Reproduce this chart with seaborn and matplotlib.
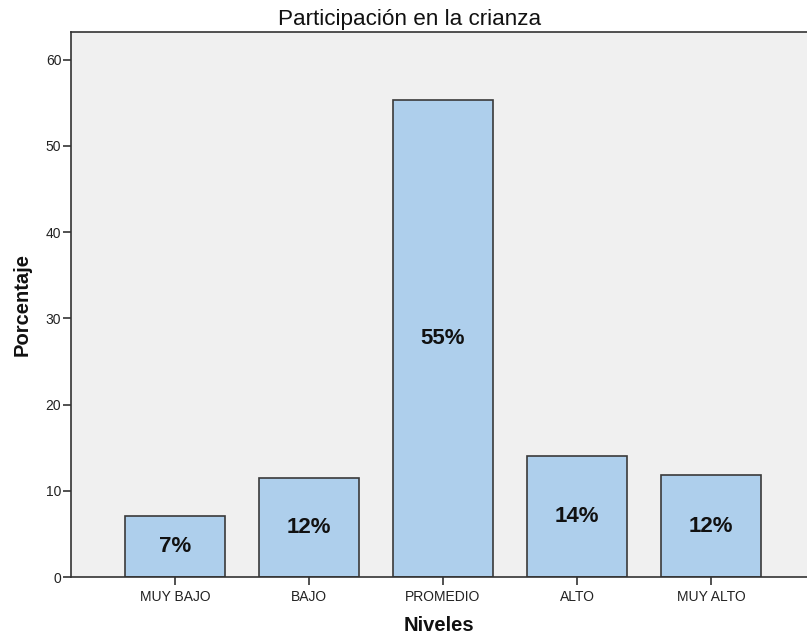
import pandas as pd
import seaborn as sns
import matplotlib.pyplot as plt

# Data
niveles = ["MUY BAJO", "BAJO", "PROMEDIO", "ALTO", "MUY ALTO"]
porcentaje = [7.1, 11.5, 55.3, 14.0, 11.8]
etiquetas = ["7%", "12%", "55%", "14%", "12%"]

df = pd.DataFrame({"Niveles": niveles, "Porcentaje": porcentaje})

sns.set_style("white")
plt.rcParams["font.family"] = ["Liberation Sans", "DejaVu Sans"]

fig = plt.figure(figsize=(8.07, 6.41), dpi=100)
ax = fig.add_axes([0.088, 0.0998, 0.912, 0.8503])
ax.set_facecolor("#F0F0F0")

sns.barplot(data=df, x="Niveles", y="Porcentaje", color="#AECFEC",
            edgecolor="#3A3A3A", linewidth=1.2, width=0.75, saturation=1, ax=ax)

# percentage labels centred in each bar
for i, (v, lab) in enumerate(zip(porcentaje, etiquetas)):
    ax.text(i, v / 2, lab, ha="center", va="center", fontsize=16,
            fontweight="bold", color="#111111")

ax.set_xlim(-0.776, 4.716)
ax.set_ylim(0, 63.2)
ax.set_yticks([0, 10, 20, 30, 40, 50, 60])

for side in ["left", "bottom", "top"]:
    ax.spines[side].set_visible(True)
    ax.spines[side].set_color("#333333")
    ax.spines[side].set_linewidth(1.2)
ax.spines["right"].set_visible(False)

ax.tick_params(axis="both", direction="out", length=6, width=1.2,
               color="#333333", labelsize=10, labelcolor="#222222",
               bottom=True, left=True)
ax.tick_params(axis="y", pad=1)
ax.tick_params(axis="x", pad=3)

# title sits centred on the whole figure, not on the axes
fig.text(0.508, 0.961, "Participación en la crianza", ha="center",
         va="baseline", fontsize=16.2, color="#111111")
ax.set_xlabel("Niveles", fontsize=14.5, fontweight="bold", labelpad=9,
              color="#111111")
ax.set_ylabel("Porcentaje", fontsize=14.5, fontweight="bold", labelpad=10,
              color="#111111")

fig.savefig("out.png", dpi=100)
plt.close(fig)
